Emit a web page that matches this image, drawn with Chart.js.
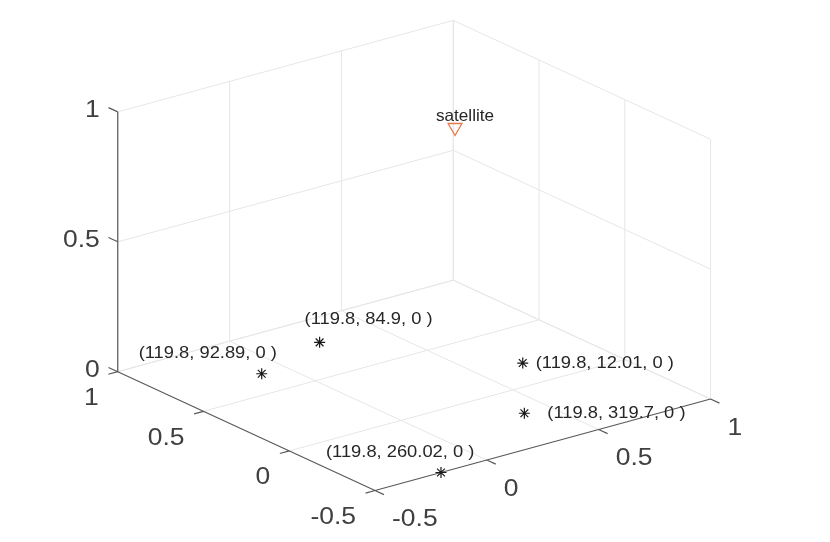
<!DOCTYPE html>
<html>
<head>
<meta charset="utf-8">
<style>
html,body{margin:0;padding:0;background:#fff}
#wrap{width:830px;height:542px;position:relative}
canvas{display:block;filter:blur(0.35px)}
</style>
<script src="https://cdn.jsdelivr.net/npm/chart.js@4"></script>
</head>
<body>
<div id="wrap"><canvas id="c" width="830" height="542"></canvas></div>
<script>
// Axis tick values
const depthTicks = [1, 0.5, 0, -0.5];
const widthTicks = [-0.5, 0, 0.5, 1];
const heightTicks = [0, 0.5, 1];

// Ground points (in axis units)
const groundDepth = [0.672, 0.796, 0.192, -0.21, -0.5];
const groundWidth = [-0.108, 0.246, 0.691, 0.39, -0.205];
const groundHeight = [0, 0, 0, 0, 0];
const groundLabels = ['(119.8, 92.89, 0 )', '(119.8, 84.9, 0 )', '(119.8, 12.01, 0 )', '(119.8, 319.7, 0 )', '(119.8, 260.02, 0 )'];

// Satellite
const satDepth = [0.146];
const satWidth = [0.353];
const satHeight = [1];
const satLabels = ['satellite'];

// Orthographic view of the 3D box onto the flat chart scales
const view = {ox:375, oy:490.5, wx:223.7, wy:-61, dx:-171.5, dy:-79.2, hy:-259.8};
function proj(d, w, h){
  return {
    x: view.ox + (w+0.5)*view.wx + (d+0.5)*view.dx,
    y: view.oy + (w+0.5)*view.wy + (d+0.5)*view.dy + h*view.hy
  };
}
const dMin=-0.5,dMax=1,wMin=-0.5,wMax=1,hMin=0,hMax=1;
const gap={x:null,y:null};

const gridPts=[];
function seg(arr,a,b){arr.push(proj(...a),proj(...b),gap);}
depthTicks.forEach(d=>{
  if(d!==dMin) seg(gridPts,[d,wMin,0],[d,wMax,0]);
  seg(gridPts,[d,wMax,0],[d,wMax,1]);
});
widthTicks.forEach(w=>{
  if(w!==wMin) seg(gridPts,[dMin,w,0],[dMax,w,0]);
  seg(gridPts,[dMax,w,0],[dMax,w,1]);
});
heightTicks.forEach(h=>{
  seg(gridPts,[dMax,wMin,h],[dMax,wMax,h]);
  seg(gridPts,[dMax,wMax,h],[dMin,wMax,h]);
});

const axisPts=[];
seg(axisPts,[dMax,wMin,hMin],[dMax,wMin,hMax]);
seg(axisPts,[dMax,wMin,hMin],[dMin,wMin,hMin]);
seg(axisPts,[dMin,wMin,hMin],[dMin,wMax,hMin]);
heightTicks.forEach(h=>seg(axisPts,[dMax,wMin,h],[dMax+0.054,wMin,h]));
depthTicks.forEach(d=>seg(axisPts,[d,wMin,0],[d,wMin-0.042,0]));
widthTicks.forEach(w=>seg(axisPts,[dMin,w,0],[dMin-0.052,w,0]));

const groundPts=groundDepth.map((d,i)=>({...proj(d,groundWidth[i],groundHeight[i]),label:groundLabels[i]}));
const satPts=satDepth.map((d,i)=>({...proj(d,satWidth[i],satHeight[i]),label:satLabels[i]}));

// Label placement relative to each marker: [dx, dy]
const labelOffsets=[[-123,-20],[-15,-23],[13,0.5],[23,0.5],[-115,-20]];

const textPlugin={
  id:'text3d',
  afterDatasetsDraw(chart){
    const c=chart.ctx,sx=chart.scales.x,sy=chart.scales.y;
    const put=(t,p,ox,oy,al,stretch)=>{
      c.save();
      c.translate(sx.getPixelForValue(p.x)+ox,sy.getPixelForValue(p.y)+oy);
      c.scale(stretch,1);
      c.textAlign=al;
      c.fillText(t,0,0);
      c.restore();
    };
    c.save();
    c.textBaseline='middle';
    c.font='24.5px "Liberation Sans", Arial, sans-serif';
    c.fillStyle='#404040';
    heightTicks.forEach(h=>put(String(h),proj(dMax,wMin,h),-18,-1.5,'right',1.08));
    depthTicks.forEach(d=>put(String(d),proj(d,wMin,0),-19,26.5,'right',1.08));
    widthTicks.forEach(w=>put(String(w),proj(dMin,w,0),17,29,'left',1.08));
    c.font='16.5px "Liberation Sans", Arial, sans-serif';
    c.fillStyle='#262626';
    groundPts.forEach((p,i)=>{
      const o=labelOffsets[i];
      put(p.label,p,o[0],o[1],'left',1.11);
    });
    satPts.forEach(p=>put(p.label,p,10,-11.5,'center',1.04));
    c.restore();
  }
};

new Chart(document.getElementById('c'),{
  type:'scatter',
  data:{datasets:[
    {data:gridPts,showLine:true,borderColor:'#e6e6e6',borderWidth:1,pointRadius:0,spanGaps:false,order:3},
    {data:axisPts,showLine:true,borderColor:'#595959',borderWidth:1.2,pointRadius:0,spanGaps:false,order:2},
    {data:groundPts,pointStyle:'star',pointRadius:5.5,pointBorderColor:'#1a1a1a',pointBorderWidth:1.2,pointBackgroundColor:'#1a1a1a',showLine:false,order:1},
    {data:satPts,pointStyle:'triangle',pointRotation:180,pointRadius:8,pointBorderColor:'#e8794a',pointBorderWidth:1.3,pointBackgroundColor:'rgba(0,0,0,0)',showLine:false,order:0}
  ]},
  options:{
    responsive:false,animation:false,
    layout:{padding:0,autoPadding:false},
    plugins:{legend:{display:false},tooltip:{enabled:false}},
    scales:{
      x:{type:'linear',min:0,max:830,display:false},
      y:{type:'linear',min:0,max:542,reverse:true,display:false}
    }
  },
  plugins:[textPlugin]
});
</script>
</body>
</html>
